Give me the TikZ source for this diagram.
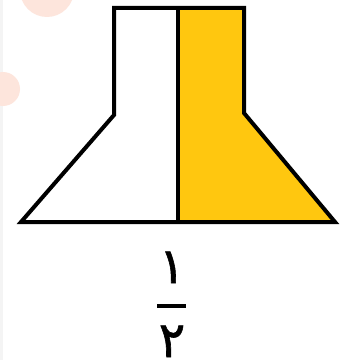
\documentclass[tikz,border=0pt]{standalone}
\usepackage{fontspec}
\newfontfamily\arabicfont[Script=Arabic, FakeBold=1.2]{DejaVu Sans}
\TeXXeTstate=1
\usetikzlibrary{positioning}
\definecolor{frgold}{HTML}{FFC70F}
\definecolor{frpink}{HTML}{FDE5DC}
\definecolor{frstrip}{HTML}{F4F4F4}

\begin{document}
\begin{tikzpicture}[x=0.75pt, y=-0.75pt, line join=miter,
    digit/.style={font=\arabicfont\fontsize{37}{37}\selectfont, inner sep=0pt,
      anchor=base, text depth=0pt}]
    \useasboundingbox (0,0) rectangle (342,360);
    \fill[white] (0,0) rectangle (342,360);
    \fill[frstrip] (0,0) rectangle (3,360);
    \fill[frpink] (47,-10) circle (27);
    \fill[frpink] (3,89) circle (17);
    % yellow half
    \fill[frgold] (178,8) -- (244,8) -- (244,113) -- (335,222) -- (178,222) -- cycle;
    % outline
    \draw[line width=3pt] (114,8) -- (244,8) -- (244,113) -- (335,222)
      -- (21,222) -- (114,115) -- cycle;
    \draw[line width=3pt] (178,8) -- (178,222);
    % fraction
    \node[digit] (num) at (172,283) {\beginR ١\endR};
    \coordinate (barl) at (157,306);
    \coordinate (barr) at (186,306);
    \draw[line width=2.4pt] (barl) -- (barr);
    \node[digit] (den) at (172,357) {\beginR ٢\endR};
  \end{tikzpicture}
\end{document}
